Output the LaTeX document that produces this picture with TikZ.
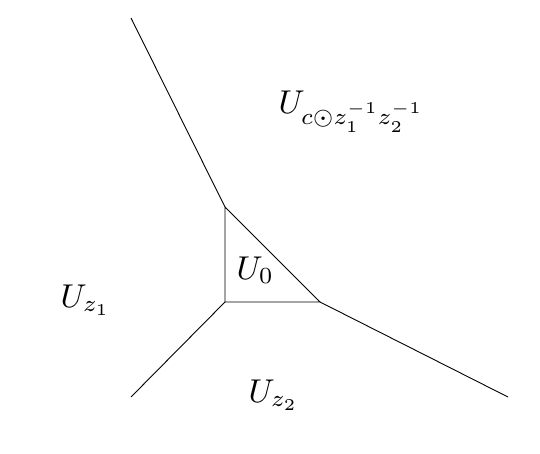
\documentclass[tikz,border=0pt]{standalone}
\begin{document}
\begin{tikzpicture}[x=1pt,y=-1pt,
  edge/.style={line width=0.9pt, line join=round},
  lab/.style={anchor=base west, inner sep=0pt, scale=3.3, transform shape}]
\useasboundingbox (0,0) rectangle (540,454);
\coordinate (top) at (131,18);
\coordinate (A) at (225,207);
\coordinate (B) at (225,302);
\coordinate (C) at (320,302);
\coordinate (bl) at (131,397);
\coordinate (br) at (508,397);
\draw[edge] (top) -- (A);
\draw[edge] (A) -- (B) -- (C) -- cycle;
\draw[edge] (B) -- (bl);
\draw[edge] (C) -- (br);
\node[lab] (uc) at (278,114) {$U_{c\odot z_1^{-1}z_2^{-1}}$};
\node[lab] (u0) at (236,279) {$U_0$};
\node[lab] (uz1) at (60,307) {$U_{z_1}$};
\node[lab] (uz2) at (248,402) {$U_{z_2}$};
\end{tikzpicture}
\end{document}
